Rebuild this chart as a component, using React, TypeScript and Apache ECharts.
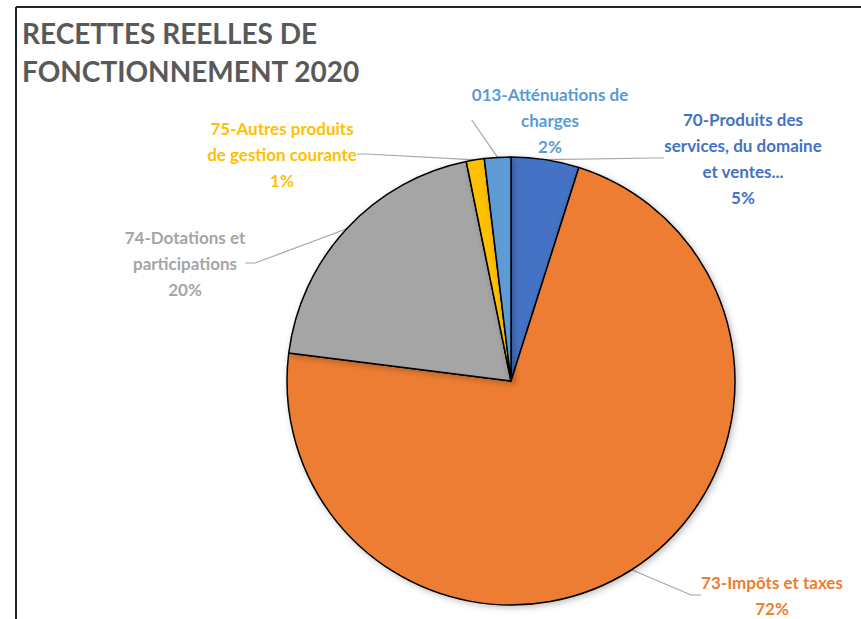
import React, { useEffect, useRef } from "react";
import * as echarts from "echarts";

const titleLines = ["RECETTES REELLES DE", "FONCTIONNEMENT 2020"];
const categories = [
  "70-Produits des\nservices, du domaine\net ventes...",
  "73-Impôts et taxes",
  "74-Dotations et\nparticipations",
  "75-Autres produits\nde gestion courante",
  "013-Atténuations de\ncharges",
];
const values = [4.9, 72.1, 19.8, 1.3, 1.9];
const colors = ["#4472C4", "#ED7D31", "#A5A5A5", "#FFC000", "#5B9BD5"];
const labelColors = ["#4472C4", "#ED7D31", "#A5A5A5", "#FFC000", "#5B9BD5"];
// label block centres (layout)
const labelPos = [
  [743, 158],
  [772, 595],
  [185, 263],
  [282, 154],
  [550, 120],
];

export default function App() {
  const ref = useRef<HTMLDivElement>(null);
  useEffect(() => {
    const chart = echarts.init(ref.current!, null, { renderer: "svg" });
    chart.setOption({
      animation: false,
      backgroundColor: "#ffffff",
      graphic: [
        {
          type: "line",
          shape: { x1: 16, y1: 7, x2: 861, y2: 7 },
          style: { stroke: "#222", lineWidth: 2 },
        },
        {
          type: "line",
          shape: { x1: 16, y1: 7, x2: 16, y2: 619 },
          style: { stroke: "#222", lineWidth: 2 },
        },
        {
          type: "text",
          left: 22,
          top: 14,
          style: {
            text: titleLines.join("\n"),
            font: "bold 28px Lato",
            lineHeight: 38,
            fill: "#595959",
          },
        },
      ],
      series: [
        {
          type: "pie",
          center: [511, 381],
          radius: 224,
          startAngle: 90,
          clockwise: true,
          percentPrecision: 0,
          itemStyle: {
            borderColor: "#000",
            borderWidth: 1.5,
            shadowBlur: 6,
            shadowOffsetX: 2,
            shadowOffsetY: 2,
            shadowColor: "rgba(0,0,0,0.25)",
          },
          label: {
            show: true,
            formatter: "{b}\n{d}%",
            fontFamily: "Lato",
            fontWeight: "bold",
            fontSize: 17,
            lineHeight: 26,
            align: "center",
          },
          labelLine: {
            show: true,
            length: 15,
            length2: 10,
            lineStyle: { color: "#A6A6A6", width: 1.2 },
          },
          labelLayout: (p: any) => ({
            x: labelPos[p.dataIndex][0],
            y: labelPos[p.dataIndex][1],
            align: "center",
            verticalAlign: "middle",
          }),
          emphasis: { disabled: true },
          data: categories.map((name, i) => ({
            name,
            value: values[i],
            itemStyle: { color: colors[i] },
            label: { color: labelColors[i] },
          })),
        },
      ],
    });
    return () => chart.dispose();
  }, []);
  return (
    <div
      ref={ref}
      style={{ position: "fixed", left: 0, top: 0, width: 861, height: 619 }}
    />
  );
}
